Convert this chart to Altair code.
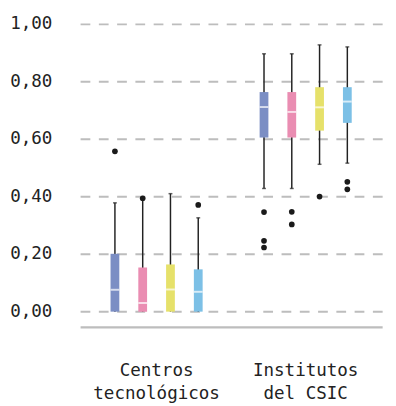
import altair as alt
import pandas as pd

groups = ["Centros tecnológicos", "Institutos del CSIC"]
series = ["Serie 1", "Serie 2", "Serie 3", "Serie 4"]
colors = ["#7b8ec4", "#ea8db2", "#e6e16a", "#7cc0e6"]

# per series: [Centros, Institutos]
whisk_lo = {"Serie 1": [0.0, 0.428], "Serie 2": [0.0, 0.428], "Serie 3": [0.0, 0.512], "Serie 4": [0.0, 0.516]}
q1 = {"Serie 1": [0.0, 0.605], "Serie 2": [0.0, 0.605], "Serie 3": [0.0, 0.629], "Serie 4": [0.0, 0.656]}
median = {"Serie 1": [0.076, 0.711], "Serie 2": [0.030, 0.694], "Serie 3": [0.077, 0.710], "Serie 4": [0.069, 0.730]}
q3 = {"Serie 1": [0.201, 0.763], "Serie 2": [0.153, 0.763], "Serie 3": [0.164, 0.780], "Serie 4": [0.147, 0.780]}
whisk_hi = {"Serie 1": [0.378, 0.896], "Serie 2": [0.390, 0.896], "Serie 3": [0.410, 0.927], "Serie 4": [0.326, 0.920]}

outliers = {
    "Serie 1": [[0.557], [0.346, 0.246, 0.223]],
    "Serie 2": [[0.394], [0.347, 0.303]],
    "Serie 3": [[], [0.400]],
    "Serie 4": [[0.371], [0.451, 0.425]],
}

rows = []
for s in series:
    for i, g in enumerate(groups):
        rows.append({"grupo": g, "serie": s, "lo": whisk_lo[s][i], "q1": q1[s][i],
                     "med": median[s][i], "q3": q3[s][i], "hi": whisk_hi[s][i]})
box_df = pd.DataFrame(rows)

orows = []
for s in series:
    for i, g in enumerate(groups):
        for v in outliers[s][i]:
            orows.append({"grupo": g, "serie": s, "v": v})
out_df = pd.DataFrame(orows)

x_enc = alt.X("grupo:N", sort=groups, title=None,
              scale=alt.Scale(paddingInner=0, paddingOuter=0.013),
              axis=alt.Axis(labelAngle=0, ticks=False, domain=True, domainColor="#bdbdbd",
                            domainWidth=2.5, labelPadding=36, labelFontSize=18,
                            labelLineHeight=23, labelBaseline="top", labelColor="#222222",
                            labelExpr="[substring(datum.label, 0, indexof(datum.label, ' ')), substring(datum.label, indexof(datum.label, ' ') + 1)]"))
xo_enc = alt.XOffset("serie:N", sort=series,
                     scale=alt.Scale(paddingInner=0, paddingOuter=0.684))
y_scale = alt.Scale(domain=[-0.053, 1.0], nice=False, zero=False)
y_axis = alt.Axis(values=[0, 0.2, 0.4, 0.6, 0.8, 1.0], grid=True, gridDash=[10, 8.75],
                  gridColor="#bdbdbd", gridWidth=2, domain=False, ticks=False,
                  labelPadding=29, labelFontSize=18, labelColor="#222222",
                  labelExpr="replace(format(datum.value, '.2f'), '.', ',')")
color_enc = alt.Color("serie:N", scale=alt.Scale(domain=series, range=colors), legend=None)

base = alt.Chart(box_df).encode(x=x_enc, xOffset=xo_enc)

whiskers = base.mark_rule(color="#222222", strokeWidth=1.5).encode(
    y=alt.Y("lo:Q", scale=y_scale, axis=y_axis, title=None), y2="hi:Q")
cap_hi = base.mark_tick(color="#222222", size=4, thickness=1.5).encode(y=alt.Y("hi:Q", scale=y_scale))
cap_lo = alt.Chart(box_df[box_df["lo"] > 0]).mark_tick(color="#222222", size=4, thickness=1.5).encode(
    x=x_enc, xOffset=xo_enc, y=alt.Y("lo:Q", scale=y_scale))
boxes = base.mark_bar(size=9).encode(y=alt.Y("q1:Q", scale=y_scale), y2="q3:Q", color=color_enc)
meds = base.mark_tick(color="white", size=9, thickness=2).encode(y=alt.Y("med:Q", scale=y_scale))
pts = alt.Chart(out_df).mark_circle(color="#1a1a1a", size=34, opacity=1).encode(
    x=x_enc, xOffset=xo_enc, y=alt.Y("v:Q", scale=y_scale))

chart = alt.layer(whiskers, cap_hi, cap_lo, boxes, meds, pts).properties(
    width=310, height=311,
    autosize=alt.AutoSizeParams(type="none"),
    padding={"left": 74, "top": 11, "right": 6, "bottom": 80},
).configure_view(stroke=None).configure_axis(labelFont="DejaVu Sans Mono")

chart.save("out.html", embed_options={"renderer": "svg", "actions": False})
